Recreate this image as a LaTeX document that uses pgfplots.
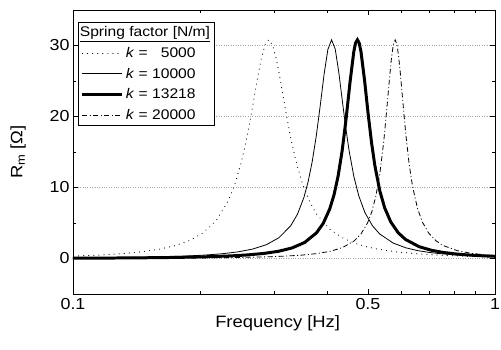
\documentclass[border=0pt]{standalone}
\usepackage{fontspec}
\setmainfont{Liberation Sans}[FakeStretch=1.12]
\usepackage{pgfplots}
\pgfplotsset{compat=1.18}
\begin{document}
\begin{tikzpicture}
\path[use as bounding box] (-73bp,-56bp) rectangle (428bp,294bp);
\begin{axis}[
  at={(0,0)}, anchor=south west,
  scale only axis, width=422bp, height=284bp,
  xmode=log, xmin=0.1, xmax=1, ymin=-5, ymax=35,
  xtick={0.1,0.5,1}, xticklabels={0.1,0.5,1},
  minor xtick={0.2,0.3,0.4,0.6,0.7,0.8,0.9},
  ytick={0,10,20,30}, minor ytick={-5,5,15,25},
  tick align=inside, major tick length=5bp, minor tick length=3bp,
  ymajorgrids, grid style={dotted, gray!70, line width=0.6pt},
  axis line style={line width=0.9pt},
  every tick/.style={line width=0.8pt},
  /pgf/number format/assume math mode=true,
  tick label style={font=\fontsize{16}{18}\selectfont},
  xticklabel style={yshift=-1bp},
  xlabel={Frequency [Hz]}, ylabel={R\textsubscript{m} [Ω]},
  label style={font=\fontsize{16.5}{18}\selectfont},
  xlabel style={at={(axis description cs:0.485,0)}, anchor=center, yshift=-29bp},
  ylabel style={at={(axis description cs:-0.13,0.5)}, anchor=center, rotate=0},
  legend style={at={(0.012,0.958)}, anchor=north west, draw=black, line width=0.7pt,
    font=\fontsize{14}{16}\selectfont, row sep=5bp, inner sep=2.5bp},
  legend cell align=left,
  legend image code/.code={\draw[#1] (0bp,0bp) -- (40bp,0bp);},
]
\addlegendimage{empty legend}
\addlegendentry{\hspace{-46bp}\underline{Spring factor [N/m]}}

\addplot[black, line width=1.1pt, line cap=round, dash pattern=on 0.1pt off 5pt] coordinates {
(0.0873,0.236)(0.1019,0.345)(0.1164,0.489)(0.1310,0.682)(0.1455,0.944)(0.1601,1.304)(0.1746,1.812)(0.1892,2.546)(0.2037,3.639)(0.2183,5.324)(0.2328,8.006)(0.2415,10.35)(0.2503,13.46)(0.2561,16.01)(0.2619,18.93)(0.2677,22.12)(0.2735,25.34)(0.2794,28.16)(0.2852,30.11)(0.2910,30.80)(0.2968,30.14)(0.3026,28.35)(0.3085,25.86)(0.3143,23.09)(0.3201,20.36)(0.3288,16.70)(0.3376,13.70)(0.3492,10.66)(0.3638,8.006)(0.3783,6.208)(0.4074,4.047)(0.4365,2.861)(0.4656,2.144)(0.4947,1.676)(0.5238,1.353)(0.5820,0.944)(0.6693,0.617)(0.7566,0.440)(0.8730,0.305)(1.0185,0.211)
};
\addlegendentry{\textit{k} = \phantom{1}5000}

\addplot[black, line width=0.8pt] coordinates {
(0.0820,0.0475)(0.1025,0.0777)(0.1230,0.1187)(0.1435,0.1734)(0.1640,0.2466)(0.1845,0.345)(0.2050,0.4795)(0.2255,0.6668)(0.2460,0.934)(0.2665,1.329)(0.2870,1.935)(0.3075,2.916)(0.3280,4.604)(0.3403,6.225)(0.3526,8.611)(0.3608,10.82)(0.3690,13.68)(0.3772,17.27)(0.3854,21.53)(0.3936,25.93)(0.4018,29.45)(0.4100,30.80)(0.4182,29.50)(0.4264,26.26)(0.4346,22.29)(0.4428,18.48)(0.4510,15.22)(0.4633,11.46)(0.4756,8.815)(0.4920,6.446)(0.5125,4.604)(0.5330,3.454)(0.5740,2.167)(0.6150,1.502)(0.6560,1.111)(0.6970,0.862)(0.7380,0.692)(0.8200,0.4795)(0.9430,0.312)(1.0660,0.222)
};
\addlegendentry{\textit{k} = 10000}

\addplot[black, line width=3pt] coordinates {
(0.0944,0.0359)(0.1180,0.0588)(0.1416,0.0898)(0.1652,0.1313)(0.1888,0.1868)(0.2124,0.2616)(0.2360,0.364)(0.2596,0.5067)(0.2832,0.7115)(0.3068,1.015)(0.3304,1.486)(0.3540,2.257)(0.3776,3.612)(0.3918,4.949)(0.4059,6.987)(0.4154,8.944)(0.4248,11.59)(0.4342,15.12)(0.4437,19.62)(0.4531,24.68)(0.4626,29.04)(0.4673,30.35)(0.4720,30.80)(0.4767,30.35)(0.4814,29.10)(0.4909,25.07)(0.5003,20.46)(0.5098,16.36)(0.5192,13.08)(0.5334,9.530)(0.5475,7.164)(0.5664,5.136)(0.5900,3.612)(0.6136,2.685)(0.6608,1.667)(0.7080,1.149)(0.7552,0.848)(0.8024,0.656)(0.8496,0.526)(0.9440,0.364)(1.0856,0.236)
};
\addlegendentry{\textit{k} = 13218}

\addplot[black, line width=0.8pt, dash pattern=on 5pt off 2.5pt on 1pt off 2.5pt] coordinates {
(0.0986,0.0168)(0.1160,0.0237)(0.1450,0.0389)(0.1740,0.0594)(0.2030,0.0869)(0.2320,0.1237)(0.2610,0.1733)(0.2900,0.2415)(0.3190,0.3367)(0.3480,0.4738)(0.3770,0.6784)(0.4060,0.998)(0.4350,1.529)(0.4640,2.486)(0.4814,3.460)(0.4988,5.002)(0.5104,6.556)(0.5220,8.782)(0.5336,11.99)(0.5452,16.54)(0.5568,22.39)(0.5626,25.48)(0.5684,28.21)(0.5742,30.12)(0.5800,30.80)(0.5858,30.13)(0.5916,28.30)(0.5974,25.74)(0.6032,22.88)(0.6148,17.45)(0.6264,13.19)(0.6380,10.10)(0.6554,7.036)(0.6728,5.139)(0.6960,3.597)(0.7250,2.486)(0.7540,1.828)(0.8120,1.122)(0.8700,0.769)(0.9280,0.565)(0.9860,0.437)(1.0440,0.350)
};
\addlegendentry{\textit{k} = 20000}
\end{axis}
\end{tikzpicture}
\end{document}
